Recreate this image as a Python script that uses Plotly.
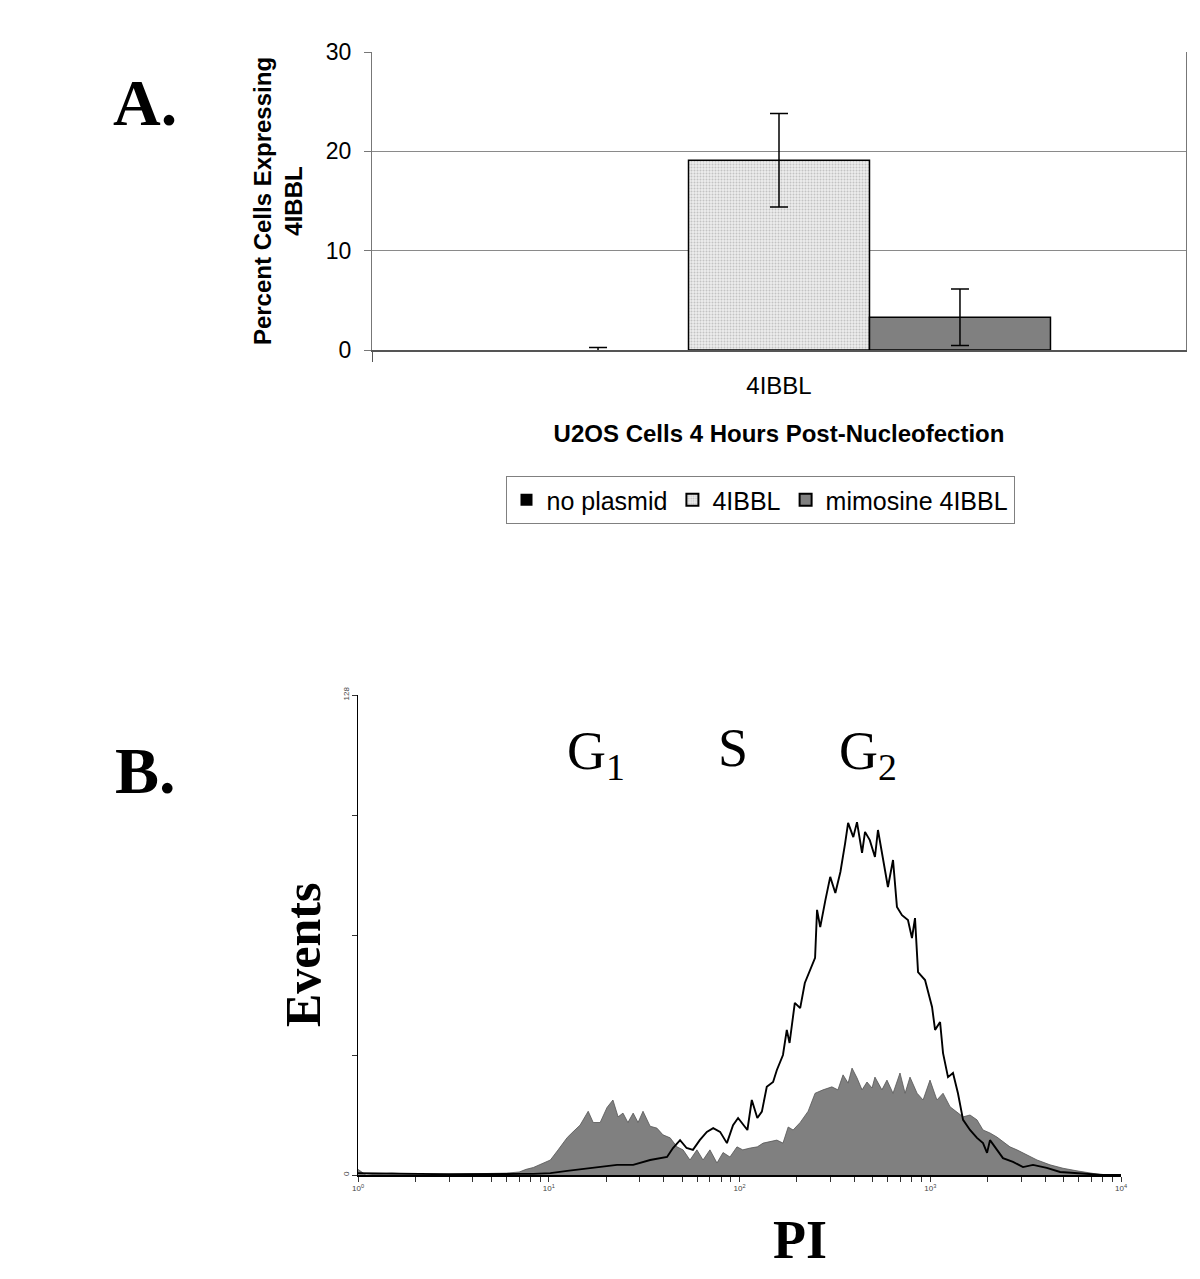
"""
Two-panel figure: 4IBBL expression bar chart (A) and PI cell-cycle histogram (B)
"""

import plotly.graph_objects as go

# ---- Panel A data ----
categories = ["4IBBL"]
series_names = ["no plasmid", "4IBBL", "mimosine 4IBBL"]
series_values = [0.0, 19.1, 3.3]
series_errors = [0.25, 4.7, 2.85]

# ---- Panel B data (PI intensity vs events) ----
gray_pi = [1.0, 1.1, 1.5, 2.0, 3.0, 4.5, 6.0, 7.0, 7.6, 8.3,
           10.2, 11.2, 12.5, 13.4, 14.6, 16.1, 17.1, 18.6, 20.2, 21.7,
           23.1, 24.5, 26.0, 27.7, 29.4, 31.2, 34.0, 36.9, 39.7, 43.3,
           47.0, 50.6, 55.0, 59.8, 64.4, 70.0, 76.2, 82.0, 89.1, 97.0,
           104, 114, 124, 133, 145, 157, 169, 180, 191, 208,
           229, 249, 274, 305, 328, 349, 371, 389, 413, 439,
           466, 495, 513, 558, 593, 638, 694, 738, 783, 853,
           917, 997, 1084, 1167, 1270, 1380, 1486, 1616, 1758, 1891,
           2057, 2238, 2406, 2617, 2848, 3215, 3630, 4248, 4967, 5877,
           6880, 8050, 10000]
gray_events = [1.5, 0.0, 0.5, 0.2, 0.2, 0.3, 0.5, 0.8, 1.5, 2.0,
               4.0, 6.7, 10.0, 11.5, 13.3, 17.0, 14.0, 14.0, 18.0, 20.0,
               15.5, 16.5, 14.0, 16.5, 14.0, 17.0, 13.0, 12.5, 10.7, 9.9,
               7.5, 6.7, 4.0, 6.7, 4.0, 6.7, 3.2, 6.0, 4.8, 7.5,
               6.7, 7.2, 7.5, 8.5, 8.9, 9.3, 8.5, 12.8, 12.0, 14.0,
               17.0, 21.8, 22.7, 23.5, 22.7, 26.7, 24.5, 28.5, 25.9, 22.7,
               24.8, 23.2, 26.1, 22.7, 25.3, 21.8, 27.2, 21.8, 26.1, 21.8,
               20.0, 25.3, 20.0, 21.8, 18.2, 16.9, 15.5, 16.0, 14.7, 12.0,
               11.2, 10.1, 8.9, 7.5, 6.7, 5.3, 4.0, 2.7, 1.8, 1.1,
               0.5, 0.0, 0.0]

open_pi = [1.0, 1.5, 2.1, 3.0, 4.4, 5.6, 7.1, 8.3, 10.2, 12.5,
           15.1, 18.6, 22.8, 27.7, 34.0, 41.7, 44.8, 48.8, 52.8, 57.0,
           61.9, 67.4, 72.8, 79.1, 85.9, 92.5, 98.3, 110, 116, 124,
           131, 139, 150, 157, 163, 169, 177, 183, 195, 208,
           220, 234, 249, 255, 265, 282, 299, 318, 338, 358,
           371, 395, 413, 439, 455, 482, 513, 532, 566, 600,
           638, 669, 711, 764, 802, 832, 863, 939, 1022, 1060,
           1126, 1167, 1239, 1316, 1397, 1486, 1616, 1758, 1891, 1985,
           2057, 2238, 2406, 2716, 3064, 3458, 4081, 4794, 5623, 6880,
           8050, 10000]
open_events = [0.5, 0.3, 0.3, 0.2, 0.3, 0.4, 0.3, 0.3, 0.5, 1.1,
               1.6, 2.1, 2.7, 2.7, 4.0, 4.8, 7.2, 9.3, 7.2, 6.7,
               9.3, 11.5, 12.5, 11.5, 8.5, 13.3, 15.2, 12.0, 20.0, 15.2,
               16.9, 23.5, 24.8, 28.0, 29.9, 32.0, 38.7, 35.2, 45.9, 44.5,
               51.2, 54.7, 57.9, 70.7, 66.1, 73.3, 79.5, 75.2, 80.8, 88.5,
               93.9, 90.1, 94.1, 85.9, 91.5, 89.3, 84.8, 92.0, 84.5, 76.8,
               84.0, 71.5, 69.3, 68.0, 63.2, 68.5, 54.1, 52.0, 44.8, 38.7,
               40.8, 32.5, 26.1, 27.2, 21.8, 14.7, 12.0, 9.9, 8.5, 5.9,
               9.3, 6.7, 4.5, 3.5, 2.1, 2.7, 1.9, 0.8, 0.5, 0.3,
               0.0, 0.0]

# PI axis ticks: decades labelled, 2..9 multiples as unlabelled ticks
pi_ticks = [m * 10 ** d for d in range(4) for m in range(1, 10)] + [10000]
pi_tick_text = [f"10<sup>{d}</sup>" if m == 1 else "" for d in range(4) for m in range(1, 10)] + ["10<sup>4</sup>"]
events_ticks = [0, 32, 64, 96, 128]
events_text = ["0", "", "", "", "128"]

ARIAL = "Arial, Liberation Sans, sans-serif"
TIMES = "Times New Roman, Liberation Serif, serif"

fig = go.Figure()

# Panel A bars
bar_styles = [
    dict(color="#000000", line=dict(color="#000000", width=0)),
    dict(color="#e4e4e4", line=dict(color="#000000", width=1.5),
         pattern=dict(shape=".", size=3, solidity=0.35, fgcolor="#9a9a9a", bgcolor="#ececec")),
    dict(color="#808080", line=dict(color="#000000", width=1.5)),
]
for name, val, err, style in zip(series_names, series_values, series_errors, bar_styles):
    fig.add_trace(go.Bar(
        x=categories, y=[val], name=name, marker=style,
        error_y=dict(type="data", array=[err], color="#000000", thickness=1.5, width=9),
        xaxis="x", yaxis="y",
    ))

# Panel B histograms
fig.add_trace(go.Scatter(
    x=gray_pi, y=gray_events, mode="lines", fill="tozeroy",
    fillcolor="#808080", line=dict(color="#555555", width=0.8),
    showlegend=False, xaxis="x2", yaxis="y2",
))
fig.add_trace(go.Scatter(
    x=open_pi, y=open_events, mode="lines",
    line=dict(color="#000000", width=1.9),
    showlegend=False, xaxis="x2", yaxis="y2",
))

fig.update_layout(
    width=1200, height=1279,
    margin=dict(l=0, r=0, t=0, b=0, pad=0),
    paper_bgcolor="white", plot_bgcolor="white",
    font=dict(family=ARIAL, color="#000000"),
    barmode="group", bargap=0.333, bargroupgap=0,
    showlegend=True,
    legend=dict(
        orientation="h", x=760 / 1200, xanchor="center", y=1 - 476 / 1279, yanchor="top",
        font=dict(family=ARIAL, size=25), bordercolor="#808080", borderwidth=1,
        itemsizing="constant", traceorder="normal", itemwidth=30,
    ),
    xaxis=dict(
        domain=[372 / 1200, 1186 / 1200], anchor="y", type="category", automargin=False,
        showline=True, linecolor="#555555", linewidth=1.5,
        ticks="outside", tickson="boundaries", ticklen=10, tickcolor="#555555",
        tickfont=dict(size=24), ticklabelstandoff=13, showgrid=False,
        title=dict(text="<b>U2OS Cells 4 Hours Post-Nucleofection</b>",
                   font=dict(size=24), standoff=28),
    ),
    yaxis=dict(
        domain=[1 - 350 / 1279, 1 - 52 / 1279], anchor="x", range=[0, 30], dtick=10,
        automargin=False,
        showline=True, linecolor="#777777", linewidth=1.2, mirror=True,
        ticks="outside", ticklen=7, tickcolor="#777777",
        tickfont=dict(size=23), ticklabelstandoff=8,
        showgrid=True, gridcolor="#8a8a8a", gridwidth=1, zeroline=False,
        title=dict(text="<b>Percent Cells Expressing<br>4IBBL</b>",
                   font=dict(size=24), standoff=16),
    ),
    xaxis2=dict(
        domain=[358 / 1200, 1121 / 1200], anchor="y2", type="log", range=[0, 4],
        automargin=False,
        showline=True, linecolor="#000000", linewidth=1.5,
        tickvals=pi_ticks, ticktext=pi_tick_text,
        ticks="outside", ticklen=5, tickcolor="#333333",
        tickfont=dict(size=8, color="#444444"), showgrid=False, zeroline=False,
    ),
    yaxis2=dict(
        domain=[1 - 1175 / 1279, 1 - 695 / 1279], anchor="x2", range=[0, 128],
        automargin=False,
        showline=True, linecolor="#000000", linewidth=1.2,
        tickvals=events_ticks, ticktext=events_text, tickangle=-90,
        ticks="outside", ticklen=5, tickcolor="#333333",
        tickfont=dict(size=8, color="#444444"), showgrid=False, zeroline=False,
    ),
)

# panel letters, phase labels and panel B axis titles, placed in pixel terms
labels = [
    ("<b>A.</b>", 145, 102, 66, 0),
    ("<b>B.</b>", 145, 770, 66, 0),
    ("G<sub>1</sub>", 596, 754, 54, 0),
    ("S", 733, 748, 54, 0),
    ("G<sub>2</sub>", 868, 754, 54, 0),
    ("<b>Events</b>", 303, 955, 50, -90),
    ("<b>PI</b>", 800, 1240, 54, 0),
]
for text, px, py, size, angle in labels:
    fig.add_annotation(text=text, x=px / 1200, y=1 - py / 1279,
                       xref="paper", yref="paper", showarrow=False,
                       xanchor="center", yanchor="middle", textangle=angle,
                       font=dict(family=TIMES, size=size))

# drop the browser's default body margin so the figure sits at the page origin
fig.write_html("out.html", config={"displayModeBar": False},
               post_script="document.body.style.margin='0';")
